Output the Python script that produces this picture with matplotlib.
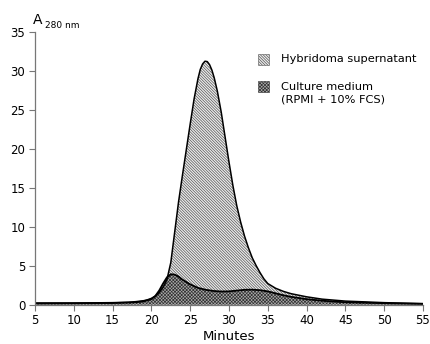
import numpy as np
import matplotlib
matplotlib.use("Agg")
import matplotlib.pyplot as plt
from matplotlib.patches import Rectangle

# values
hyb_min = [5, 10, 15, 17, 18, 19, 19.5, 20, 20.5, 21, 21.5, 22, 22.5, 23, 23.5,
           24, 24.5, 25, 25.5, 26, 26.3, 26.6, 26.9, 27.2, 27.5, 27.8, 28.1,
           28.5, 29, 29.5, 30, 30.5, 31, 31.5, 32, 32.5, 33, 33.5, 34, 34.5,
           35, 36, 37, 38, 40, 42, 45, 50, 55]
hyb_val = [0.2, 0.2, 0.25, 0.3, 0.38, 0.5, 0.62, 0.8, 1.1, 1.55, 2.2, 3.2, 5.4,
           9.3, 13.2, 16.6, 19.9, 23.2, 26.4, 29.0, 30.2, 30.9, 31.25, 31.2,
           30.8, 30.1, 29.1, 27.4, 24.7, 21.5, 18.3, 15.3, 12.7, 10.6, 8.8,
           7.3, 6.0, 5.0, 4.1, 3.3, 2.7, 2.1, 1.7, 1.4, 1.0, 0.7, 0.45, 0.25,
           0.12]

med_min = [5, 15, 18, 19, 20, 20.5, 21, 21.5, 22, 22.5, 23, 23.5, 24, 25, 26,
           27, 28, 29, 30, 31, 32, 33, 34, 35, 36, 37, 38, 40, 42, 45, 50, 55]
med_val = [0.15, 0.2, 0.3, 0.42, 0.7, 1.1, 1.8, 2.7, 3.5, 3.9, 3.85, 3.6, 3.2,
           2.6, 2.15, 1.9, 1.75, 1.68, 1.7, 1.8, 1.9, 1.92, 1.85, 1.7, 1.45,
           1.2, 1.0, 0.7, 0.5, 0.3, 0.18, 0.1]

x_ticks = [5, 10, 15, 20, 25, 30, 35, 40, 45, 50, 55]
y_ticks = [0, 5, 10, 15, 20, 25, 30, 35]

hyb_label = "Hybridoma supernatant"
med_label = "Culture medium\n(RPMI + 10% FCS)"

plt.rcParams['hatch.linewidth'] = 0.5
plt.rcParams['font.family'] = 'DejaVu Sans'

hyb_hatch = '\\' * 12
med_hatch = 'x' * 10

fig = plt.figure(figsize=(4.3, 3.44), dpi=100)
ax = fig.add_axes([35 / 430, 1 - 304.6 / 344, 388 / 430, 272.6 / 344])

ax.fill_between(hyb_min, 0, hyb_val, facecolor='#ececec', edgecolor='#555555',
                hatch=hyb_hatch, linewidth=0)
ax.fill_between(med_min, 0, med_val, facecolor='#aaaaaa', edgecolor='#333333',
                hatch=med_hatch, linewidth=0)
ax.plot(hyb_min, hyb_val, color='black', lw=1.1)
ax.plot(med_min, med_val, color='black', lw=1.3)

ax.set_xlim(5, 55)
ax.set_ylim(0, 35)
ax.set_xticks(x_ticks)
ax.set_yticks(y_ticks)
for s in ['top', 'right']:
    ax.spines[s].set_visible(False)
for s in ['left', 'bottom']:
    ax.spines[s].set_color('#777777')
    ax.spines[s].set_linewidth(0.9)
ax.tick_params(direction='out', length=4, width=0.8, color='#777777',
               labelsize=8.5, pad=3)

fig.text(229 / 430, 1 - 336 / 344, "Minutes", ha='center', va='center',
         fontsize=9.5)
fig.text(33 / 430, 1 - 20 / 344, "A", ha='left', va='center', fontsize=10)
fig.text(45 / 430, 1 - 25 / 344, "280 nm", ha='left', va='center',
         fontsize=6.5)

# legend drawn by hand
fig.add_artist(Rectangle((258 / 430, 1 - 65 / 344), 11 / 430, 11 / 344,
                         transform=fig.transFigure, facecolor='#ececec',
                         edgecolor='#555555', hatch=hyb_hatch, lw=0.4))
fig.add_artist(Rectangle((258 / 430, 1 - 92 / 344), 11 / 430, 11 / 344,
                         transform=fig.transFigure, facecolor='#aaaaaa',
                         edgecolor='#333333', hatch=med_hatch, lw=0.4))
fig.text(281 / 430, 1 - 58.5 / 344, hyb_label, ha='left', va='center',
         fontsize=8.2)
fig.text(281 / 430, 1 - 93.5 / 344, med_label, ha='left', va='center',
         fontsize=8.2, linespacing=1.3)

fig.savefig("out.png", dpi=100)
